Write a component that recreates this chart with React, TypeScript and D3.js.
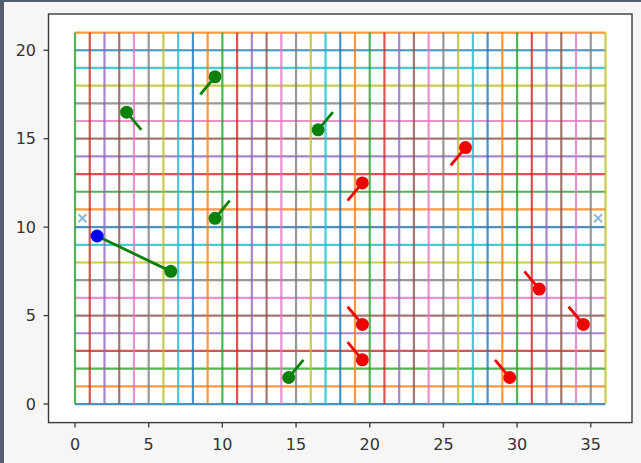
import React, { useRef, useEffect } from 'react';
import * as d3 from 'd3';

// grid lines: horizontal rows then vertical columns, each one a plot call
const rowValues = d3.range(0, 22);
const colValues = d3.range(0, 37);
const tab10 = ['#1f77b4', '#ff7f0e', '#2ca02c', '#d62728', '#9467bd', '#8c564b', '#e377c2', '#7f7f7f', '#bcbd22', '#17becf'];

// green agents: position and where their heading tail ends
const greenX = [3.5, 9.5, 16.5, 9.5, 14.5, 6.5];
const greenY = [16.5, 18.5, 15.5, 10.5, 1.5, 7.5];
const greenTailX = [4.5, 8.5, 17.5, 10.5, 15.5, 1.5];
const greenTailY = [15.5, 17.5, 16.5, 11.5, 2.5, 9.5];

// red agents
const redX = [19.5, 26.5, 19.5, 19.5, 29.5, 31.5, 34.5];
const redY = [12.5, 14.5, 4.5, 2.5, 1.5, 6.5, 4.5];
const redTailX = [18.5, 25.5, 18.5, 18.5, 28.5, 30.5, 33.5];
const redTailY = [11.5, 13.5, 5.5, 3.5, 2.5, 7.5, 5.5];

// blue ball
const blueX = [1.5];
const blueY = [9.5];

// goal markers
const goalX = [0.5, 35.5];
const goalY = [10.5, 10.5];

const xTicks = [0, 5, 10, 15, 20, 25, 30, 35];
const yTicks = [0, 5, 10, 15, 20];

const Chart = () => {
  const svgRef = useRef(null);

  useEffect(() => {
    const svg = d3.select(svgRef.current);
    svg.selectAll('*').remove();

    const width = 641;
    const height = 463;
    const box = { left: 48.5, right: 632, top: 14, bottom: 422.6 };

    svg.attr('width', width).attr('height', height);

    // figure background
    svg.append('rect').attr('width', width).attr('height', height).attr('fill', '#f6f6f6');
    svg.append('rect').attr('width', 4).attr('height', height).attr('fill', '#56606c');
    svg.append('rect').attr('width', width).attr('height', 2).attr('fill', '#56606c');

    const x = d3.scaleLinear().domain([-1.8, 37.8]).range([box.left, box.right]);
    const y = d3.scaleLinear().domain([-1.05, 22.05]).range([box.bottom, box.top]);

    svg
      .append('rect')
      .attr('x', box.left)
      .attr('y', box.top)
      .attr('width', box.right - box.left)
      .attr('height', box.bottom - box.top)
      .attr('fill', '#ffffff');

    const g = svg.append('g');

    // horizontal rows
    rowValues.forEach((v, i) => {
      g.append('line')
        .attr('x1', x(0))
        .attr('x2', x(36))
        .attr('y1', y(v))
        .attr('y2', y(v))
        .attr('stroke', tab10[i % 10])
        .attr('stroke-width', 2.2)
        .attr('opacity', 0.8);
    });

    // vertical columns continue the colour cycle
    colValues.forEach((v, i) => {
      g.append('line')
        .attr('x1', x(v))
        .attr('x2', x(v))
        .attr('y1', y(0))
        .attr('y2', y(21))
        .attr('stroke', tab10[(i + rowValues.length) % 10])
        .attr('stroke-width', 2.2)
        .attr('opacity', 0.8);
    });

    // tails
    greenX.forEach((gx, i) => {
      g.append('line')
        .attr('x1', x(gx))
        .attr('y1', y(greenY[i]))
        .attr('x2', x(greenTailX[i]))
        .attr('y2', y(greenTailY[i]))
        .attr('stroke', '#0a820a')
        .attr('stroke-width', 2.8);
    });
    redX.forEach((rx, i) => {
      g.append('line')
        .attr('x1', x(rx))
        .attr('y1', y(redY[i]))
        .attr('x2', x(redTailX[i]))
        .attr('y2', y(redTailY[i]))
        .attr('stroke', '#f00000')
        .attr('stroke-width', 2.8);
    });

    // dots
    greenX.forEach((gx, i) => {
      g.append('circle').attr('cx', x(gx)).attr('cy', y(greenY[i])).attr('r', 6.5).attr('fill', '#0a820a');
    });
    redX.forEach((rx, i) => {
      g.append('circle').attr('cx', x(rx)).attr('cy', y(redY[i])).attr('r', 6.5).attr('fill', '#f00000');
    });
    blueX.forEach((bx, i) => {
      g.append('circle').attr('cx', x(bx)).attr('cy', y(blueY[i])).attr('r', 6.5).attr('fill', '#0000f0');
    });

    // goal crosses
    goalX.forEach((gx, i) => {
      const cx = x(gx);
      const cy = y(goalY[i]);
      const s = 4;
      g.append('path')
        .attr('d', `M${cx - s},${cy - s}L${cx + s},${cy + s}M${cx - s},${cy + s}L${cx + s},${cy - s}`)
        .attr('stroke', '#8fb9d6')
        .attr('stroke-width', 2)
        .attr('fill', 'none');
    });

    // spines
    svg
      .append('rect')
      .attr('x', box.left)
      .attr('y', box.top)
      .attr('width', box.right - box.left)
      .attr('height', box.bottom - box.top)
      .attr('fill', 'none')
      .attr('stroke', '#3a3a3a')
      .attr('stroke-width', 1.4);

    // x axis ticks
    xTicks.forEach((t) => {
      svg
        .append('line')
        .attr('x1', x(t))
        .attr('x2', x(t))
        .attr('y1', box.bottom)
        .attr('y2', box.bottom + 5)
        .attr('stroke', '#3a3a3a')
        .attr('stroke-width', 1.3);
      svg
        .append('text')
        .attr('x', x(t))
        .attr('y', 450)
        .attr('text-anchor', 'middle')
        .attr('font-family', 'DejaVu Sans')
        .attr('font-size', 16)
        .attr('fill', '#333')
        .text(t);
    });

    // y axis ticks
    yTicks.forEach((t) => {
      svg
        .append('line')
        .attr('x1', box.left - 5)
        .attr('x2', box.left)
        .attr('y1', y(t))
        .attr('y2', y(t))
        .attr('stroke', '#3a3a3a')
        .attr('stroke-width', 1.3);
      svg
        .append('text')
        .attr('x', 36)
        .attr('y', y(t))
        .attr('dy', '0.36em')
        .attr('text-anchor', 'end')
        .attr('font-family', 'DejaVu Sans')
        .attr('font-size', 16)
        .attr('fill', '#333')
        .text(t);
    });
  }, []);

  return <svg ref={svgRef} style={{ display: 'block' }} />;
};

export default function App() {
  return (
    <div style={{ position: 'absolute', left: 0, top: 0 }}>
      <Chart />
    </div>
  );
}
